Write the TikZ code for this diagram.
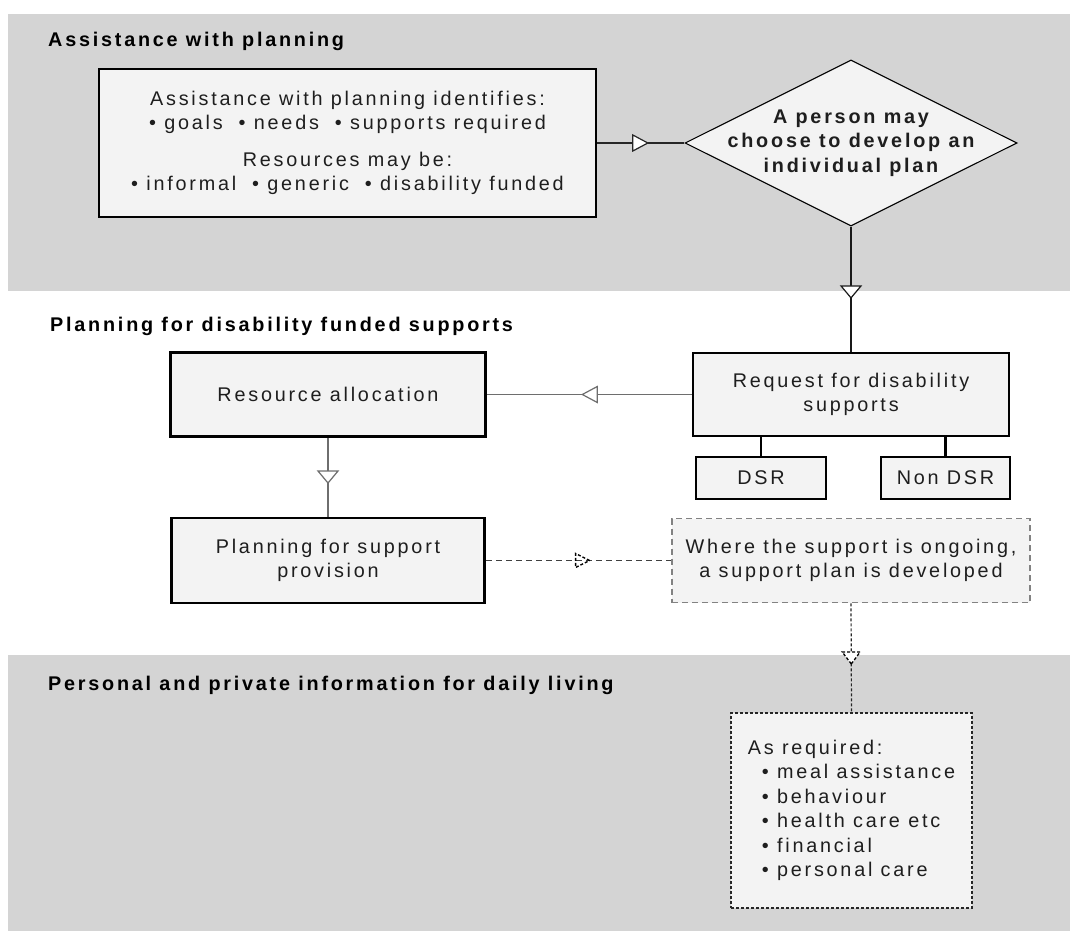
\documentclass[tikz,border=0pt]{standalone}
\usepackage{fontspec}
\setmainfont{Liberation Sans}[LetterSpace=14]
\usetikzlibrary{shapes.geometric,decorations.markings}
\definecolor{bandgray}{RGB}{212,212,212}
\definecolor{boxfill}{RGB}{243,243,243}
\definecolor{textcol}{RGB}{30,30,30}
\definecolor{conngray}{RGB}{110,110,110}
\definecolor{dashgray}{RGB}{130,130,130}
\newcommand\bodyfont{\fontsize{19.8}{24.5}\selectfont}
\tikzset{
  band/.style={fill=bandgray},
  sectitle/.style={anchor=base west, inner sep=0pt, font=\bodyfont\bfseries, text=black},
  mainbox/.style={draw=black, line width=2.5pt, fill=boxfill, inner sep=0pt, align=center, font=\bodyfont, text=textcol},
  smallbox/.style={draw=black, line width=2.2pt, fill=boxfill, inner sep=0pt, align=center, font=\bodyfont, text=textcol},
  decision/.style={diamond, draw=black, line width=1.1pt, fill=boxfill, inner sep=0pt},
  dectext/.style={align=center, font=\bodyfont\bfseries, text=textcol, inner sep=0pt},
  wherebox/.style={draw=dashgray, line width=1.5pt, dash pattern=on 6pt off 4pt, fill=boxfill, inner sep=0pt, align=center, font=\bodyfont, text=textcol},
  reqbox/.style={draw=black!85, line width=1.2pt, dash pattern=on 3pt off 2pt, fill=boxfill, inner sep=0pt, align=left, font=\bodyfont, text=textcol},
  conn/.style={line width=1.2pt},
  headH/.style={postaction={decorate}, decoration={markings, mark=at position #1 with {\draw[solid, fill=white, line width=1.2pt] (0pt,0pt) -- (-15pt,8pt) -- (-15pt,-8pt) -- cycle;}}},
  headV/.style={postaction={decorate}, decoration={markings, mark=at position #1 with {\draw[solid, fill=white, line width=1.2pt] (0pt,0pt) -- (-12pt,10pt) -- (-12pt,-10pt) -- cycle;}}},
  headD/.style={postaction={decorate}, decoration={markings, mark=at position #1 with {\draw[black, dash pattern=on 3pt off 2pt, line width=1.4pt] (0pt,0pt) -- (-14pt,7pt) -- (-14pt,-7pt) -- cycle;}}},
  headVD/.style={postaction={decorate}, decoration={markings, mark=at position #1 with {\draw[black, dash pattern=on 3pt off 2pt, fill=white, line width=1.3pt] (0pt,0pt) -- (-12pt,9pt) -- (-12pt,-9pt) -- cycle;}}},
}
\begin{document}
\begin{tikzpicture}[x=1pt,y=-1pt]
\useasboundingbox (0,0) rectangle (1070,933);
% bands
\fill[band] (8,14) rectangle (1070,291);
\fill[band] (8,655) rectangle (1070,931);
% section titles
\node[sectitle] (t1) at (48,47) {Assistance with planning};
\node[sectitle] (t2) at (50,331) {Planning for disability funded supports};
\node[sectitle] (t3) at (48,690) {Personal and private information for daily living};
% nodes
\node[mainbox, minimum width=497pt, minimum height=148pt] (plan) at (347.5,143)
  {Assistance with planning identifies:\\
   \textbullet~goals\hspace{16pt}\textbullet~needs\hspace{16pt}\textbullet~supports required\\[12pt]
   Resources may be:\\
   \textbullet~informal\hspace{16pt}\textbullet~generic\hspace{16pt}\textbullet~disability funded};
\node[decision, minimum width=332pt, minimum height=166pt] (dia) at (851,143) {};
\node[dectext] (diat) at (dia.center) {A person may\\choose to develop an\\individual plan};
\node[mainbox, minimum width=316pt, minimum height=83pt] (req) at (851,394.5)
  {Request for disability\\supports};
\node[mainbox, minimum width=315pt, minimum height=84pt] (res) at (328,394.5)
  {Resource allocation};
\node[mainbox, minimum width=313pt, minimum height=85pt] (pl) at (328,560.5)
  {Planning for support\\provision};
\node[smallbox, minimum width=130pt, minimum height=42pt] (dsr) at (761,478) {DSR};
\node[smallbox, minimum width=129pt, minimum height=42pt] (ndsr) at (945.5,478) {Non DSR};
\node[wherebox, minimum width=358pt, minimum height=84pt] (where) at (851,560.5)
  {Where the support is ongoing,\\a support plan is developed};
\node[reqbox, minimum width=241pt, minimum height=195pt] (asreq) at (851.5,810.5)
  {As required:\\
   \hspace{14pt}\textbullet~meal assistance\\
   \hspace{14pt}\textbullet~behaviour\\
   \hspace{14pt}\textbullet~health care etc\\
   \hspace{14pt}\textbullet~financial\\
   \hspace{14pt}\textbullet~personal care};
% connectors
\draw[conn, draw=black!85, headH=0.58] (plan.east) -- (dia.west);
\draw[conn, draw=black!90, headV=0.57] (dia.south) -- (req.north);
\draw[conn, draw=conngray, headH=0.534] (req.west) -- (res.east);
\draw[conn, draw=conngray, headV=0.573] (res.south) -- (pl.north);
\draw[line width=2.2pt] (dsr.north |- req.south) -- (dsr.north);
\draw[line width=2.2pt] (ndsr.north |- req.south) -- (ndsr.north);
\draw[conn, draw=black!75, dash pattern=on 6pt off 4pt, headD=0.56] (pl.east) -- (where.west);
\draw[conn, draw=black!85, dash pattern=on 3pt off 2pt, headVD=0.556] (where.south) -- (asreq.north);
\end{tikzpicture}
\end{document}
